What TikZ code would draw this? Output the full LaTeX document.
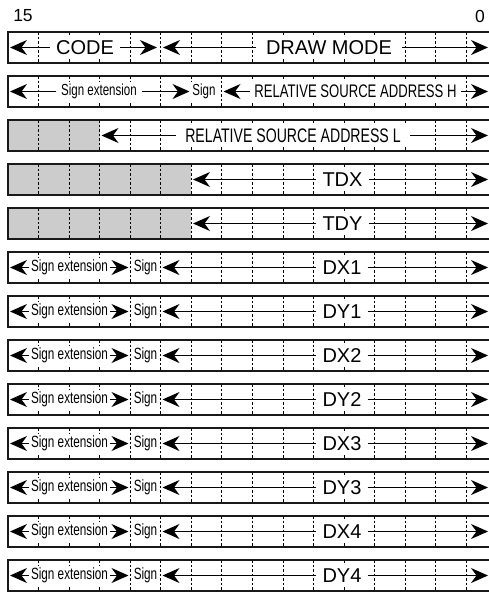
\documentclass[tikz,border=0pt]{standalone}
\usepackage{fontspec}
\setmainfont{Liberation Sans}
\newfontfamily\condfont[FakeStretch=0.72]{Liberation Sans}
\usetikzlibrary{arrows.meta}

\newcommand{\cw}{30.5625}
% field: name, style, y, left tip, right tip, label x, text
\newcommand{\regfield}[7]{%
  \coordinate (#1-l) at (#4,#3);
  \coordinate (#1-r) at (#5,#3);
  \node[#2] (#1) at (#6,#3) {#7};
  \draw[dimline] (#1.west) -- (#1-l);
  \draw[dimline] (#1.east) -- (#1-r);
}

\begin{document}
\begin{tikzpicture}[x=1pt,y=-1pt,
  word/.style={draw=black!90,line width=1.3pt},
  bitline/.style={dash pattern=on 2.5pt off 2pt,line width=0.9pt},
  unused/.style={fill=black!20},
  dimline/.style={line width=1pt,-{Stealth[length=17pt,width=15pt,inset=5.5pt]}},
  big/.style={fill=white,inner xsep=6pt,inner ysep=1pt,minimum height=22pt,font=\fontsize{20}{22}\selectfont},
  slim/.style={fill=white,inner xsep=2pt,inner ysep=1pt,minimum height=20pt,font=\condfont\fontsize{16.3}{18}\selectfont},
  addr/.style={fill=white,inner xsep=4pt,inner ysep=1pt,minimum height=22pt,font=\condfont\fontsize{18.2}{20}\selectfont}]
  \useasboundingbox (0,0) rectangle (489,592);

  % bit numbers
  \node[font=\fontsize{17.5}{19}\selectfont] (msb) at (23,16) {15};
  \node[font=\fontsize{17.5}{19}\selectfont] (lsb) at (480,16) {0};

  % register words, unused bits shaded
  \foreach \g [count=\r from 0] in {0,0,3,6,6,0,0,0,0,0,0,0,0} {
    \pgfmathsetmacro{\wtop}{32+44*\r}
    \ifnum\g>0 \fill[unused] (8,\wtop) rectangle ({8+\g*\cw},\wtop+31); \fi
    \foreach \k in {1,...,15}
      \draw[bitline] ({8+\k*\cw},\wtop) -- ++(0,31);
    \draw[word] (8,\wtop) rectangle (497,\wtop+31);
  }

  % word 0
  \regfield{code}{big}{47.5}{10}{157}{85}{CODE}
  \regfield{mode}{big,inner xsep=10pt}{47.5}{163}{488}{329}{DRAW MODE}

  % word 1
  \regfield{sxh}{slim,inner xsep=5pt,font=\condfont\fontsize{16}{18}\selectfont}{91.5}{10}{189.5}{99}{Sign extension}
  \node[slim,font=\condfont\fontsize{16}{18}\selectfont] (sgh) at (204,91.5) {Sign};
  \regfield{rsah}{addr}{91.5}{223.5}{488}{355.5}{RELATIVE SOURCE ADDRESS H}

  % word 2
  \regfield{rsal}{addr,inner xsep=9pt,font=\condfont\fontsize{19.6}{21}\selectfont}{135.5}{101.5}{488}{293}{RELATIVE SOURCE ADDRESS L}

  % words 3, 4
  \regfield{tdx}{big}{179.5}{193}{488}{342.5}{TDX}
  \regfield{tdy}{big}{223.5}{193}{488}{342.5}{TDY}

  % words 5 to 12
  \foreach \lab [count=\i from 0] in {DX1,DY1,DX2,DY2,DX3,DY3,DX4,DY4} {
    \pgfmathsetmacro{\cy}{267.5+44*\i}
    \regfield{sx\i}{slim}{\cy}{10}{128.5}{69.5}{Sign extension}
    \node[slim] (sg\i) at (145.5,\cy) {Sign};
    \regfield{d\i}{big}{\cy}{162.5}{488}{342}{\lab}
  }
\end{tikzpicture}
\end{document}
